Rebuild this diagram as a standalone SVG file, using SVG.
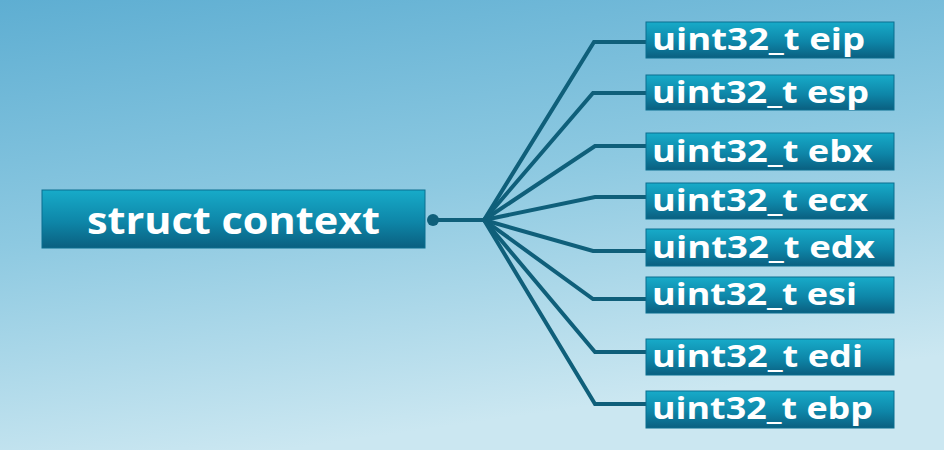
<svg xmlns="http://www.w3.org/2000/svg" width="944" height="450" viewBox="0 0 944 450">
<defs>
<linearGradient id="bg" x1="0" y1="0" x2="0.3" y2="1">
<stop offset="0" stop-color="#5eaed2"/>
<stop offset="0.5" stop-color="#8dc9e1"/>
<stop offset="1" stop-color="#cbe7f1"/>
</linearGradient>
<linearGradient id="box" x1="0" y1="0" x2="0" y2="1">
<stop offset="0" stop-color="#17abc9"/>
<stop offset="0.55" stop-color="#0e86a8"/>
<stop offset="1" stop-color="#0a5f80"/>
</linearGradient>
<style>
.b{fill:url(#box);stroke:#0b6f8f;stroke-width:1}
.t{fill:#ffffff;font-family:"Open Sans","Liberation Sans",sans-serif;font-weight:bold}
.s{font-size:31px}
.c{fill:none;stroke:#0f5f7a;stroke-width:4;stroke-linejoin:miter}
</style>
</defs>
<rect x="0" y="0" width="944" height="450" fill="url(#bg)"/>
<g id="connectors">
<line class="c" x1="433" y1="220" x2="484" y2="220"/>
<circle cx="433" cy="220" r="6" fill="#0f5f7a"/>
<polyline class="c" points="484,220 594,42 648,42"/>
<polyline class="c" points="484,220 593,93 648,93"/>
<polyline class="c" points="484,220 595,146 648,146"/>
<polyline class="c" points="484,220 595,197 648,197"/>
<polyline class="c" points="484,220 593,251 648,251"/>
<polyline class="c" points="484,220 593,299 648,299"/>
<polyline class="c" points="484,220 595,352 648,352"/>
<polyline class="c" points="484,220 595,404 648,404"/>
</g>
<g id="struct-context">
<rect class="b" x="42" y="190" width="383" height="58"/>
<text class="t" x="87" y="234" font-size="37" textLength="293" lengthAdjust="spacingAndGlyphs">struct context</text>
</g>
<g id="eip"><rect class="b" x="646" y="22" width="248" height="36"/><text class="t s" x="652" y="50" textLength="213" lengthAdjust="spacingAndGlyphs">uint32_t eip</text></g>
<g id="esp"><rect class="b" x="646" y="75" width="248" height="35"/><text class="t s" x="652" y="103" textLength="217" lengthAdjust="spacingAndGlyphs">uint32_t esp</text></g>
<g id="ebx"><rect class="b" x="646" y="133" width="248" height="37"/><text class="t s" x="652" y="162" textLength="221" lengthAdjust="spacingAndGlyphs">uint32_t ebx</text></g>
<g id="ecx"><rect class="b" x="646" y="183" width="248" height="36"/><text class="t s" x="652" y="211" textLength="216" lengthAdjust="spacingAndGlyphs">uint32_t ecx</text></g>
<g id="edx"><rect class="b" x="646" y="229" width="248" height="37"/><text class="t s" x="652" y="258" textLength="223" lengthAdjust="spacingAndGlyphs">uint32_t edx</text></g>
<g id="esi"><rect class="b" x="646" y="277" width="248" height="36"/><text class="t s" x="652" y="305" textLength="205" lengthAdjust="spacingAndGlyphs">uint32_t esi</text></g>
<g id="edi"><rect class="b" x="646" y="339" width="248" height="36"/><text class="t s" x="652" y="367" textLength="211" lengthAdjust="spacingAndGlyphs">uint32_t edi</text></g>
<g id="ebp"><rect class="b" x="646" y="391" width="248" height="37"/><text class="t s" x="652" y="419" textLength="221" lengthAdjust="spacingAndGlyphs">uint32_t ebp</text></g>
</svg>
